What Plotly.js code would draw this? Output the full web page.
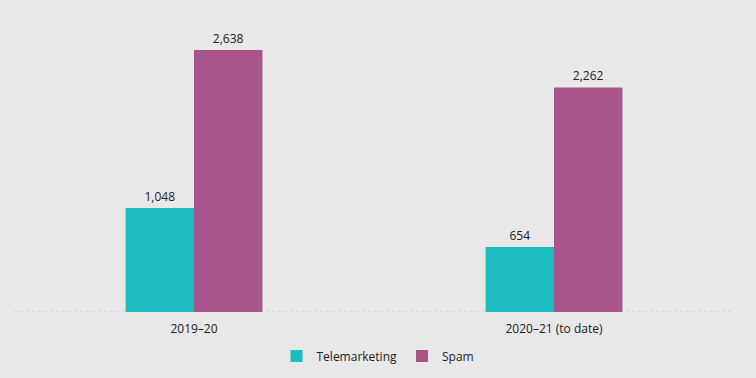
<!DOCTYPE html>
<html><head><meta charset="utf-8">
<script src="https://cdn.plot.ly/plotly-3.0.1.min.js"></script>
<style>html,body{margin:0;padding:0;background:#e8e8e8;}</style>
</head><body><div id="chart" style="width:756px;height:378px;"></div>
<script>
const categories = ["2019–20", "2020–21 (to date)"];
const telemarketing = [1048, 654];
const spam = [2638, 2262];
const fmt = v => v.toLocaleString("en-US");
const font = {family: "Open Sans, Liberation Sans, sans-serif", size: 12, color: "#222"};
const data = [
  {type: "bar", name: "Telemarketing", x: categories, y: telemarketing, marker: {color: "#1fbcbf"},
   text: telemarketing.map(fmt), textposition: "outside", cliponaxis: false, textfont: font},
  {type: "bar", name: "Spam", x: categories, y: spam, marker: {color: "#a65489"},
   text: spam.map(fmt), textposition: "outside", cliponaxis: false, textfont: font}
];
const layout = {
  width: 756, height: 378,
  paper_bgcolor: "#e8e8e8", plot_bgcolor: "#e8e8e8",
  margin: {l: 14, r: 22, t: 34, b: 66, autoexpand: false},
  barmode: "group", bargap: 0.62, bargroupgap: 0,
  font: font,
  xaxis: {showgrid: false, showline: false, zeroline: false, ticks: "outside", ticklen: 6,
          tickcolor: "rgba(0,0,0,0)", tickfont: font, automargin: false},
  yaxis: {range: [0, 2800], visible: false, showgrid: false, zeroline: false},
  showlegend: true,
  legend: {orientation: "h", x: 0.5, xanchor: "center", xref: "container", yref: "container",
           y: 0.058, yanchor: "middle", font: font, bgcolor: "rgba(0,0,0,0)", itemwidth: 30},
  shapes: [{type: "line", xref: "paper", yref: "y", x0: 0, x1: 1, y0: 0, y1: 0,
    line: {color: "#c4c4c4", width: 1, dash: "dot"}, layer: "below"}]
};
Plotly.newPlot("chart", data, layout, {displayModeBar: false, staticPlot: true});
</script></body></html>
